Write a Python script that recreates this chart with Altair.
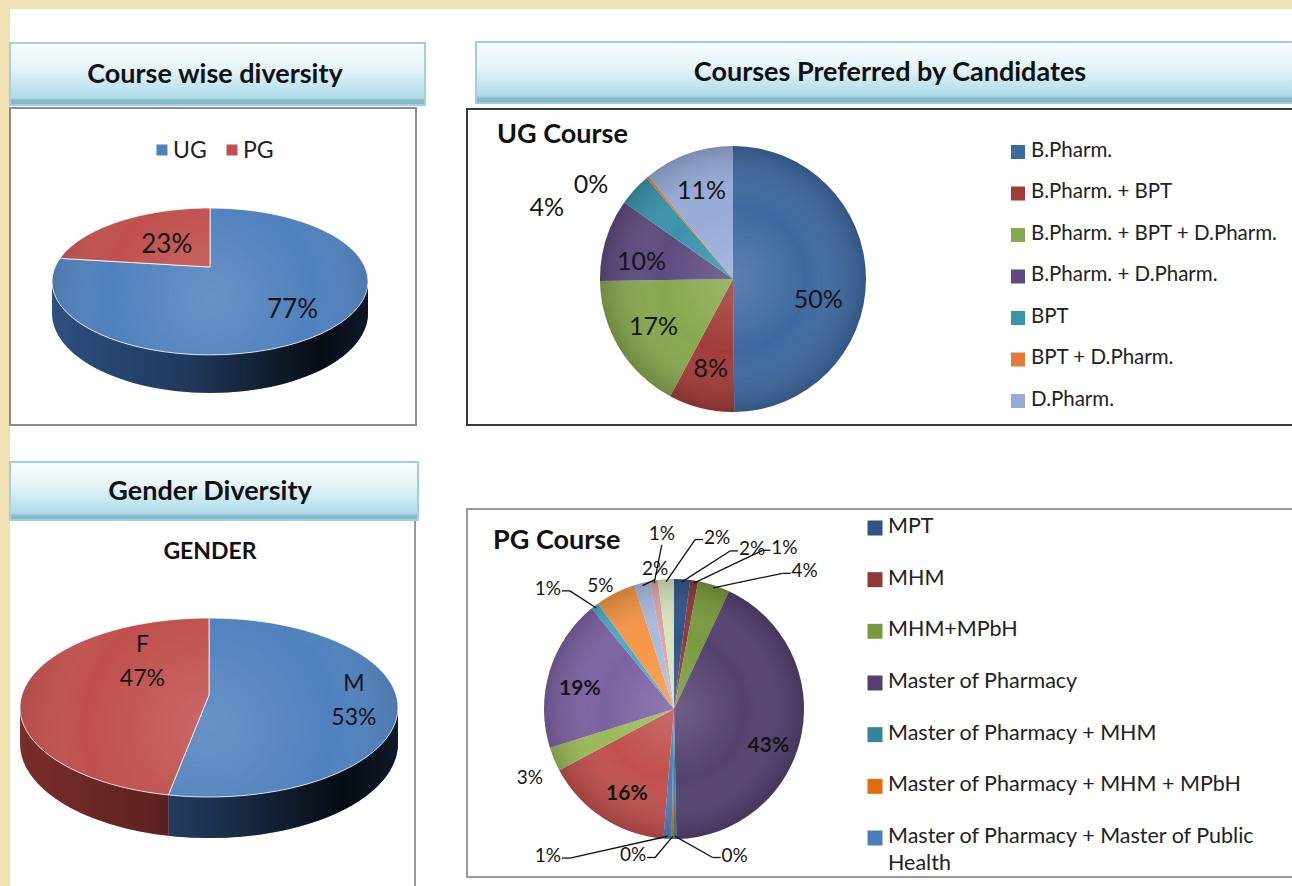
import math
import pandas as pd
import altair as alt

FONT = "Lato"
TXT = "#151515"

# ---------------- data ----------------
HEADERS = ["Course wise diversity", "Courses Preferred by Candidates", "Gender Diversity"]

COURSE_LABELS = ["UG", "PG"]
COURSE_VALUES = [77, 23]

GENDER_TITLE = "GENDER"
GENDER_LABELS = ["M", "F"]
GENDER_VALUES = [53, 47]

UG_TITLE = "UG Course"
UG_LABELS = ["B.Pharm.", "B.Pharm. + BPT", "B.Pharm. + BPT + D.Pharm.", "B.Pharm. + D.Pharm.",
             "BPT", "BPT + D.Pharm.", "D.Pharm."]
UG_VALUES = [50, 8, 17, 10, 4, 0.3, 11]

PG_TITLE = "PG Course"
PG_LEGEND = ["MPT", "MHM", "MHM+MPbH", "Master of Pharmacy", "Master of Pharmacy + MHM",
             "Master of Pharmacy + MHM + MPbH", "Master of Pharmacy + Master of Public\nHealth"]
PG_VALUES = [2, 1, 4, 43, 0.3, 0.3, 1, 16, 3, 19, 1, 5, 2, 1, 2]

# ---------------- styles ----------------
COURSE_TOP = ["#4f81bd", "#c0504d"]
COURSE_SIDE = ["#2d5080", "#8a3432"]
GENDER_TOP = ["#4f81bd", "#c0504d"]
GENDER_SIDE = ["#2d5080", "#7a2d2b"]
UG_COLORS = ["#3e69a0", "#a13c39", "#88a84f", "#5e4a7f", "#3a93ab", "#e27c38", "#97abd8"]
PG_COLORS = ["#2f5487", "#8e3a38", "#789a3e", "#54416f", "#31859c", "#e46c0a", "#4a7ebb",
             "#c0504d", "#9bbb59", "#7c62a1", "#4bacc6", "#f79646", "#a9bae0", "#dba5a4", "#d6e4bc"]

# label placement (angle in degrees clockwise from 12 o'clock, radius factor)
COURSE_PLACE = {0: (138.6, 0.72), 1: (318.6, 0.45)}
GENDER_PLACE = {0: (95.1, 0.77), 1: (316.9, 0.55)}
UG_PLACE = {0: (104, 0.66), 3: (280.5, 0.70), 4: (291, 1.5), 5: (303.5, 1.28)}
PG_PLACE = {0: (26, 1.37), 1: (34.5, 1.5), 2: (43.5, 1.46), 3: (111.5, 0.78),
            4: (157.5, 1.22), 5: (195.6, 1.17), 6: (220.6, 1.49), 7: (208.9, 0.75),
            8: (244.4, 1.23), 9: (282, 0.74), 10: (313.6, 1.34), 11: (329, 1.10),
            12: (352.3, 1.09), 13: (356, 1.35), 14: (14.1, 1.36)}
PG_LEADERS = [0, 1, 2, 4, 5, 6, 10, 12, 13, 14]


def slices(values):
    tot = float(sum(values))
    rows, cum = [], 0.0
    for i, v in enumerate(values):
        s = cum / tot
        cum += v
        e = cum / tot
        rows.append(dict(idx=i, value=v, start=s, end=e, mid=(s + e) / 2,
                         pct=f"{round(v / tot * 100)}%"))
    return pd.DataFrame(rows)


def lin_scale(lo, hi):
    return alt.Scale(domain=[-1, 1], range=[lo, hi], nice=False, zero=False)


layers = []

# ---------------- page decoration ----------------
deco = pd.DataFrame({"k": [0]})
BEIGE = "#f0e0b2"
layers.append(alt.Chart(deco).mark_rect(color=BEIGE).encode(
    x=alt.value(0), x2=alt.value(1292), y=alt.value(0), y2=alt.value(9)))
layers.append(alt.Chart(deco).mark_rect(color=BEIGE).encode(
    x=alt.value(0), x2=alt.value(10), y=alt.value(0), y2=alt.value(886)))

# panels
layers.append(alt.Chart(deco).mark_rect(fill="white", stroke="#8c8c8c", strokeWidth=2).encode(
    x=alt.value(10), x2=alt.value(416), y=alt.value(108), y2=alt.value(425)))
layers.append(alt.Chart(deco).mark_rect(fill="white", stroke="#3a3a3a", strokeWidth=2).encode(
    x=alt.value(467), x2=alt.value(1310), y=alt.value(109), y2=alt.value(425)))
layers.append(alt.Chart(deco).mark_rect(fill="white", stroke="#9a9a9a", strokeWidth=2).encode(
    x=alt.value(467), x2=alt.value(1310), y=alt.value(509), y2=alt.value(877)))
layers.append(alt.Chart(deco).mark_rule(stroke="#9a9a9a", strokeWidth=2).encode(
    x=alt.value(415), y=alt.value(520), y2=alt.value(886)))

# headers
HEAD_GRAD = alt.LinearGradient(
    gradient="linear", x1=0, x2=0, y1=0, y2=1,
    stops=[alt.GradientStop(color="#fbfdfe", offset=0),
           alt.GradientStop(color="#e2f2f7", offset=0.45),
           alt.GradientStop(color="#aedbe8", offset=0.88),
           alt.GradientStop(color="#86b9c9", offset=0.93),
           alt.GradientStop(color="#86b9c9", offset=1)])
HEAD_BOX = [(10, 425, 43, 105, 215, 75), (476, 1310, 42, 103, 890, 73), (10, 418, 462, 520, 210, 492)]
for title, (x1, x2, y1, y2, tx, ty) in zip(HEADERS, HEAD_BOX):
    hd = pd.DataFrame({"t": [title]})
    layers.append(alt.Chart(hd).mark_rect(fill=HEAD_GRAD, stroke="#9fd0df", strokeWidth=2).encode(
        x=alt.value(x1), x2=alt.value(x2), y=alt.value(y1), y2=alt.value(y2)))
    layers.append(alt.Chart(hd).mark_text(font=FONT, fontSize=27, fontWeight="bold", color="#111").encode(
        x=alt.value(tx), y=alt.value(ty), text="t:N"))


# ---------------- 3D pie ----------------
def pie3d(values, texts, top_colors, side_colors, cx, cy, Ax, Ay, p, D, place, fsize, lh):
    df = slices(values)
    df["txt"] = texts
    idx = list(range(len(values)))
    xs = lin_scale(cx - Ax, cx + Ax)
    ys = lin_scale(cy + Ay, cy - Ay)
    X = alt.X("X:Q", scale=xs, axis=None)
    Y = alt.Y("Y:Q", scale=ys, axis=None)
    phi = math.asin(p) / (2 * math.pi)
    a0, a1 = 0.25 + phi, 0.75 - phi

    def proj(ch):
        return (ch.transform_calculate(sx="datum.rr * sin(2 * PI * datum.f)")
                  .transform_calculate(z="datum.rr * cos(2 * PI * datum.f)")
                  .transform_calculate(w=f"1 + {p} * datum.z")
                  .transform_calculate(X="datum.sx / datum.w")
                  .transform_calculate(Y=f"(datum.z - datum.bot * {D}) / datum.w"))

    def wall(ch):
        # polygon: along the top rim, then back along the bottom rim
        return (ch.transform_calculate(k="sequence(0, 123)")
                  .transform_flatten(["k"])
                  .transform_calculate(kk="datum.k <= 60 ? datum.k : (datum.k <= 121 ? 121 - datum.k : 0)")
                  .transform_calculate(bot="(datum.k > 60 && datum.k <= 121) ? 1 : 0")
                  .transform_calculate(f="datum.s + (datum.e - datum.s) * datum.kk / 60")
                  .transform_calculate(rr="1"))

    side = (alt.Chart(df)
            .transform_filter(f"datum.end > {a0} && datum.start < {a1}")
            .transform_calculate(s=f"max(datum.start, {a0})")
            .transform_calculate(e=f"min(datum.end, {a1})"))
    side = proj(wall(side)).mark_line(filled=True, strokeWidth=0).encode(
        x=X, y=Y,
        color=alt.Color("idx:N", scale=alt.Scale(domain=idx, range=side_colors), legend=None),
        order="k:Q", detail="idx:N")
    shade_df = pd.DataFrame({"s": [a0], "e": [a1]})
    shade = proj(wall(alt.Chart(shade_df))).mark_line(filled=True, strokeWidth=0, fill=alt.LinearGradient(
        gradient="linear", x1=0, x2=1, y1=0, y2=0,
        stops=[alt.GradientStop(color="rgba(0,0,0,0.0)", offset=0),
               alt.GradientStop(color="rgba(0,0,0,0.3)", offset=0.45),
               alt.GradientStop(color="rgba(0,0,0,0.85)", offset=0.85),
               alt.GradientStop(color="rgba(0,0,0,0.7)", offset=1)])).encode(
        x=X, y=Y, order="k:Q")

    top = (alt.Chart(df)
           .transform_calculate(k="sequence(0, 63)")
           .transform_flatten(["k"])
           .transform_calculate(f="datum.start + (datum.end - datum.start) * clamp(datum.k - 1, 0, 60) / 60")
           .transform_calculate(rr="(datum.k == 0 || datum.k == 62) ? 0 : 1")
           .transform_calculate(bot="0"))
    top = proj(top).mark_line(filled=True, stroke="white", strokeWidth=1, strokeOpacity=0.75,
                              strokeJoin="round").encode(
        x=X, y=Y,
        color=alt.Color("idx:N", scale=alt.Scale(domain=idx, range=top_colors), legend=None),
        order="k:Q", detail="idx:N")
    glow_df = pd.DataFrame({"start": [0.0], "end": [1.0]})
    glow = (alt.Chart(glow_df)
            .transform_calculate(k="sequence(0, 61)")
            .transform_flatten(["k"])
            .transform_calculate(f="datum.start + (datum.end - datum.start) * datum.k / 60")
            .transform_calculate(rr="1")
            .transform_calculate(bot="0"))
    glow = proj(glow).mark_line(filled=True, strokeWidth=0, fill=alt.RadialGradient(
        gradient="radial", x1=0.5, y1=0.55, r1=0, x2=0.5, y2=0.55, r2=0.55,
        stops=[alt.GradientStop(color="rgba(255,255,255,0.14)", offset=0),
               alt.GradientStop(color="rgba(255,255,255,0.0)", offset=0.6),
               alt.GradientStop(color="rgba(0,0,0,0.16)", offset=1)])).encode(
        x=X, y=Y, order="k:Q")

    # labels
    lab = []
    for _, r in df.iterrows():
        ang, rf = place.get(int(r.idx), (r.mid * 360, 0.7))
        sx = rf * math.sin(math.radians(ang))
        z = rf * math.cos(math.radians(ang))
        w = 1 + p * z
        lab.append(dict(X=sx / w, Y=z / w, txt=r.txt))
    nlines = max(t.count("\n") + 1 for t in texts)
    labels = alt.Chart(pd.DataFrame(lab)).mark_text(
        font=FONT, fontSize=fsize, color=TXT, lineBreak="\n", lineHeight=lh,
        dy=-(nlines - 1) * lh / 2).encode(
        x=X, y=Y, text="txt:N")
    return [side, shade, top, glow, labels]


course_df = slices(COURSE_VALUES)
layers += pie3d(COURSE_VALUES, list(course_df.pct), COURSE_TOP, COURSE_SIDE,
                210, 267, 154.9, 70.6, 0.197, 0.432, COURSE_PLACE, 26, 34)
gender_df = slices(GENDER_VALUES)
layers += pie3d(GENDER_VALUES, [f"{l}\n{t}" for l, t in zip(GENDER_LABELS, gender_df.pct)],
                GENDER_TOP, GENDER_SIDE, 209, 695, 187.1, 87.75, 0.14, 0.402, GENDER_PLACE, 23, 34)

# course legend (horizontal)
cl = pd.DataFrame({"i": [0, 1], "lab": COURSE_LABELS})
clx = alt.Scale(domain=[0, 1], range=[162, 232], nice=False, zero=False)
layers.append(alt.Chart(cl).mark_square(size=121, opacity=1).encode(
    x=alt.X("i:Q", scale=clx, axis=None), y=alt.value(150),
    color=alt.Color("i:N", scale=alt.Scale(domain=[0, 1], range=COURSE_TOP), legend=None)))
layers.append(alt.Chart(cl).mark_text(font=FONT, fontSize=23, align="left", dx=11, color="#222").encode(
    x=alt.X("i:Q", scale=clx, axis=None), y=alt.value(151), text="lab:N"))

layers.append(alt.Chart(pd.DataFrame({"t": [GENDER_TITLE]})).mark_text(
    font=FONT, fontSize=23, fontWeight="bold", color="#111").encode(
    x=alt.value(210), y=alt.value(552), text="t:N"))


# ---------------- flat pie ----------------
def flat_pie(values, colors, cx, cy, r, place, leaders, fin, fout, win):
    df = slices(values)
    idx = list(range(len(values)))
    xs = lin_scale(cx - r, cx + r)
    ys = lin_scale(cy + r, cy - r)
    out = []
    out.append(alt.Chart(df).mark_arc(radius=r, strokeWidth=0).encode(
        theta=alt.Theta("value:Q", stack=True),
        order=alt.Order("idx:Q"),
        color=alt.Color("idx:N", scale=alt.Scale(domain=idx, range=colors), legend=None),
        x=alt.value(cx), y=alt.value(cy)))
    out.append(alt.Chart(pd.DataFrame({"k": [0]})).mark_arc(
        radius=r, theta=0, theta2=2 * math.pi,
        fill=alt.RadialGradient(
            gradient="radial", x1=0.5, y1=0.5, r1=0, x2=0.5, y2=0.5, r2=0.5,
            stops=[alt.GradientStop(color="rgba(255,255,255,0.16)", offset=0),
                   alt.GradientStop(color="rgba(255,255,255,0.0)", offset=0.55),
                   alt.GradientStop(color="rgba(0,0,0,0.18)", offset=1)])).encode(
        x=alt.value(cx), y=alt.value(cy)))
    lab, segs = [], []
    for _, row in df.iterrows():
        i = int(row.idx)
        ang, rf = place.get(i, (row.mid * 360, 0.7))
        a = math.radians(ang)
        lx, ly = rf * math.sin(a), rf * math.cos(a)
        inside = rf < 1
        lab.append(dict(X=lx, Y=ly, txt=row.pct, inside=inside))
        if i in leaders:
            m = 2 * math.pi * row.mid
            ex, ey = 0.98 * math.sin(m), 0.98 * math.cos(m)
            if abs(math.cos(a)) > 0.98:
                bx, by = lx, ly - math.copysign(11.0 / r, math.cos(a))
                segs.append(dict(X=ex, Y=ey, X2=bx, Y2=by))
            else:
                s = math.copysign(1, math.sin(a))
                bx, by = lx - s * 22.0 / r, ly - 2.0 / r
                segs.append(dict(X=ex, Y=ey, X2=bx, Y2=by))
                segs.append(dict(X=bx, Y=by, X2=lx - s * 14.0 / r, Y2=by))
    ldf = pd.DataFrame(lab)
    if segs:
        out.append(alt.Chart(pd.DataFrame(segs)).mark_rule(color="#111", strokeWidth=1.3).encode(
            x=alt.X("X:Q", scale=xs, axis=None), y=alt.Y("Y:Q", scale=ys, axis=None),
            x2="X2:Q", y2="Y2:Q"))
    out.append(alt.Chart(ldf[ldf.inside]).mark_text(
        font=FONT, fontSize=fin, fontWeight=win, color=TXT).encode(
        x=alt.X("X:Q", scale=xs, axis=None), y=alt.Y("Y:Q", scale=ys, axis=None), text="txt:N"))
    out.append(alt.Chart(ldf[~ldf.inside]).mark_text(
        font=FONT, fontSize=fout, color=TXT).encode(
        x=alt.X("X:Q", scale=xs, axis=None), y=alt.Y("Y:Q", scale=ys, axis=None), text="txt:N"))
    return out


layers += flat_pie(UG_VALUES, UG_COLORS, 733, 279, 133, UG_PLACE, [], 25, 25, "normal")
layers += flat_pie(PG_VALUES, PG_COLORS, 674, 709, 130, PG_PLACE, PG_LEADERS, 21, 19, "bold")

# pie titles
layers.append(alt.Chart(pd.DataFrame({"t": [UG_TITLE]})).mark_text(
    font=FONT, fontSize=27, fontWeight="bold", align="left", color="#111").encode(
    x=alt.value(497), y=alt.value(135), text="t:N"))
layers.append(alt.Chart(pd.DataFrame({"t": [PG_TITLE]})).mark_text(
    font=FONT, fontSize=27, fontWeight="bold", align="left", color="#111").encode(
    x=alt.value(493), y=alt.value(541), text="t:N"))


# ---------------- vertical legends ----------------
def vlegend(labels, colors, x, y0, y1, fsize, ssize, lh):
    df = pd.DataFrame({"i": list(range(len(labels))), "lab": labels})
    ys = alt.Scale(domain=[0, len(labels) - 1], range=[y0, y1], nice=False, zero=False)
    sw = alt.Chart(df).mark_square(size=ssize, opacity=1).encode(
        x=alt.value(x), y=alt.Y("i:Q", scale=ys, axis=None),
        color=alt.Color("i:N", scale=alt.Scale(domain=list(range(len(labels))), range=colors[:len(labels)]),
                        legend=None))
    tx = alt.Chart(df).mark_text(font=FONT, fontSize=fsize, align="left", baseline="top", dy=-fsize * 0.56,
                                 dx=13, color="#222", lineBreak="\n", lineHeight=lh).encode(
        x=alt.value(x), y=alt.Y("i:Q", scale=ys, axis=None), text="lab:N")
    return [sw, tx]


layers += vlegend(UG_LABELS, UG_COLORS, 1018, 152, 401, 20.5, 196, 26)
layers += vlegend(PG_LEGEND, PG_COLORS, 875, 528, 838, 21.5, 225, 27)

chart = alt.layer(*layers).resolve_scale(
    x="independent", y="independent", color="independent", theta="independent"
).properties(
    width=1292, height=886, padding=0, background="white",
    autosize=alt.AutoSizeParams(type="none"),
).configure_view(stroke=None)

chart.save("out.html", embed_options={"renderer": "svg", "actions": False})
